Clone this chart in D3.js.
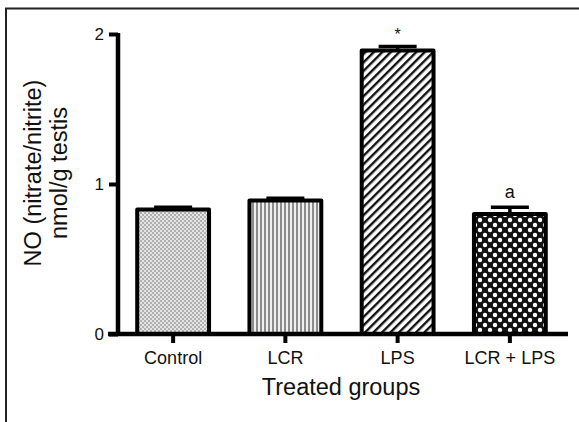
<!DOCTYPE html>
<html>
<head>
<meta charset="utf-8">
<script src="https://d3js.org/d3.v7.min.js"></script>
<style>
  body { margin: 0; background: #fff; }
  svg { display: block; font-family: "Liberation Sans", Arial, sans-serif; }
</style>
</head>
<body>
<script>
var groups = ["Control", "LCR", "LPS", "LCR + LPS"];
var means = [0.83, 0.89, 1.89, 0.80];
var errors = [0.015, 0.015, 0.027, 0.045];
var marks = ["", "", "*", "a"];
var patterns = ["dots", "vlines", "diag", "cross"];
var yTicks = [0, 1, 2];

function draw() {
    var width = 579, height = 422;
    var svg = d3.select("body").append("svg")
        .attr("width", width)
        .attr("height", height);

    var defs = svg.append("defs");

    // fine grey checker
    var p1 = defs.append("pattern").attr("id", "dots")
        .attr("patternUnits", "userSpaceOnUse").attr("width", 4).attr("height", 4);
    p1.append("rect").attr("width", 4).attr("height", 4).attr("fill", "#e4e4e4");
    p1.append("rect").attr("width", 2).attr("height", 2).attr("fill", "#b0b0b0");
    p1.append("rect").attr("x", 2).attr("y", 2).attr("width", 2).attr("height", 2).attr("fill", "#b0b0b0");

    // vertical grey lines
    var p2 = defs.append("pattern").attr("id", "vlines")
        .attr("patternUnits", "userSpaceOnUse").attr("width", 4).attr("height", 4);
    p2.append("rect").attr("width", 4).attr("height", 4).attr("fill", "#efefef");
    p2.append("rect").attr("width", 2).attr("height", 4).attr("fill", "#8c8c8c");

    // diagonal black hatch
    var p3 = defs.append("pattern").attr("id", "diag")
        .attr("patternUnits", "userSpaceOnUse").attr("width", 6).attr("height", 6)
        .attr("patternTransform", "rotate(45)");
    p3.append("rect").attr("width", 6).attr("height", 6).attr("fill", "#fff");
    p3.append("rect").attr("width", 2.4).attr("height", 6).attr("fill", "#111");

    // black cross hatch with white holes
    var p4 = defs.append("pattern").attr("id", "cross")
        .attr("patternUnits", "userSpaceOnUse").attr("width", 10).attr("height", 10);
    p4.append("rect").attr("width", 10).attr("height", 10).attr("fill", "#111");
    [[0, 0], [10, 0], [0, 10], [10, 10], [5, 5]].forEach(function(c) {
        p4.append("circle").attr("cx", c[0]).attr("cy", c[1]).attr("r", 2.2).attr("fill", "#fff");
    });

    // frame
    svg.append("path")
        .attr("d", "M6,422 V8.5 H585")
        .attr("fill", "none")
        .attr("stroke", "#222")
        .attr("stroke-width", 2);

    var x = d3.scaleBand()
        .domain(groups)
        .range([117, 566])
        .paddingInner(0.36)
        .paddingOuter(0.18);
    var y = d3.scaleLinear()
        .domain([0, 2])
        .range([334, 34]);

    var data = groups.map(function(g, i) {
        return { name: g, mean: means[i], err: errors[i], mark: marks[i], pat: patterns[i] };
    });

    // bars
    svg.append("g").selectAll("rect")
        .data(data)
        .join("rect")
        .attr("x", d => x(d.name))
        .attr("y", d => y(d.mean))
        .attr("width", x.bandwidth())
        .attr("height", d => y(0) - y(d.mean))
        .attr("fill", d => "url(#" + d.pat + ")")
        .attr("stroke", "#000")
        .attr("stroke-width", 4)
        .attr("stroke-linejoin", "round");

    // error bars (upper only)
    var eb = svg.append("g").attr("stroke", "#000").attr("stroke-width", 3.5);
    eb.selectAll(".stem")
        .data(data)
        .join("line")
        .attr("class", "stem")
        .attr("x1", d => x(d.name) + x.bandwidth() / 2)
        .attr("x2", d => x(d.name) + x.bandwidth() / 2)
        .attr("y1", d => y(d.mean))
        .attr("y2", d => y(d.mean + d.err));
    eb.selectAll(".cap")
        .data(data)
        .join("line")
        .attr("class", "cap")
        .attr("x1", d => x(d.name) + x.bandwidth() / 2 - 19)
        .attr("x2", d => x(d.name) + x.bandwidth() / 2 + 19)
        .attr("y1", d => y(d.mean + d.err))
        .attr("y2", d => y(d.mean + d.err));

    // significance marks
    svg.append("g").selectAll("text")
        .data(data.filter(d => d.mark))
        .join("text")
        .attr("x", d => x(d.name) + x.bandwidth() / 2)
        .attr("y", d => y(d.mean + d.err) - (d.mark == "*" ? 6 : 9))
        .attr("text-anchor", "middle")
        .attr("font-size", d => d.mark == "*" ? 16 : 18)
        .attr("fill", "#111")
        .text(d => d.mark);

    // y axis
    var yAxis = svg.append("g")
        .attr("transform", "translate(118,0)")
        .call(d3.axisLeft(y).tickValues(yTicks).tickFormat(d3.format("d")).tickSize(9).tickSizeOuter(0));
    yAxis.select(".domain").style("stroke-width", "4.5px").attr("d", "M0," + (y(2) - 1) + "V" + y(0));
    yAxis.selectAll(".tick line").style("stroke-width", "4px");
    yAxis.selectAll(".tick text")
        .attr("x", -14)
        .attr("font-size", 17)
        .attr("font-family", "Liberation Sans, Arial, sans-serif")
        .attr("fill", "#111");

    // x axis
    var xAxis = svg.append("g")
        .attr("transform", "translate(0,334)")
        .call(d3.axisBottom(x).tickSize(9).tickSizeOuter(0));
    xAxis.select(".domain").style("stroke-width", "4.5px").attr("d", "M108,0H568");
    xAxis.selectAll(".tick line").style("stroke-width", "4px");
    xAxis.selectAll(".tick text")
        .attr("y", 17)
        .attr("font-size", 18)
        .attr("font-family", "Liberation Sans, Arial, sans-serif")
        .attr("fill", "#111");

    // axis titles
    svg.append("text")
        .attr("x", 341)
        .attr("y", 395)
        .attr("text-anchor", "middle")
        .attr("font-size", 23.5)
        .attr("fill", "#111")
        .text("Treated groups");

    var yt = svg.append("text")
        .attr("transform", "translate(41,173) rotate(-90)")
        .attr("text-anchor", "middle")
        .attr("font-size", 23.5)
        .attr("fill", "#111");
    yt.append("tspan").attr("x", 0).attr("y", 0).text("NO (nitrate/nitrite)");
    yt.append("tspan").attr("x", 0).attr("y", 26).text("nmol/g testis");
}

draw();
</script>
</body>
</html>
